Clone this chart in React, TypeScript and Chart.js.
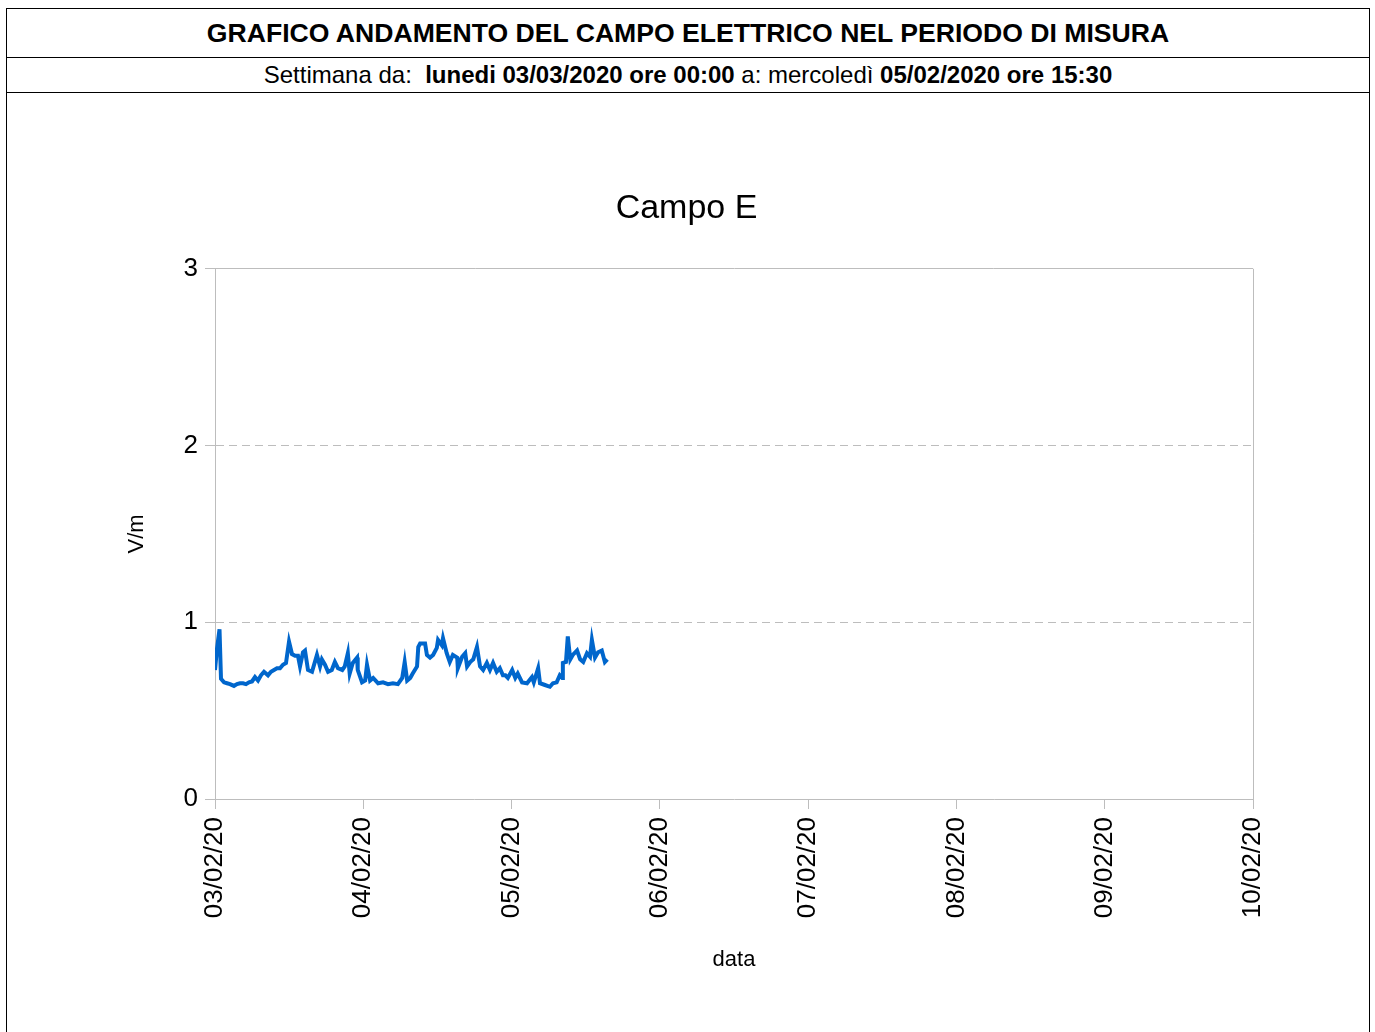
import React, { useEffect, useRef } from "react";
import { Chart, registerables } from "chart.js";

Chart.register(...registerables);

const headerTitle = "GRAFICO ANDAMENTO DEL CAMPO ELETTRICO NEL PERIODO DI MISURA";
const chartTitle = "Campo E";
const yAxisTitle = "V/m";
const xAxisTitle = "data";

const dayLabels = ["03/02/20", "04/02/20", "05/02/20", "06/02/20", "07/02/20", "08/02/20", "09/02/20", "10/02/20"];
const yTicks = [0, 1, 2, 3];

// hours since 03/02/20 00:00
const hours = [
  0, 0.32, 0.73, 0.97, 1.46, 1.94, 2.43, 3.07, 3.56, 4.05,
  4.53, 5.02, 5.5, 5.99, 6.47, 6.96, 7.44, 7.93, 8.58, 9.06,
  9.55, 10.03, 10.52, 11.0, 11.49, 11.98, 12.46, 12.95, 13.43, 13.76,
  14.24, 14.57, 15.05, 15.7, 16.5, 17.0, 17.3, 17.8, 18.3, 18.9,
  19.4, 19.9, 20.6, 21.0, 21.5, 21.8, 22.3, 23.0, 23.1, 23.8,
  24.3, 24.6, 25.1, 25.6, 26.4, 27.2, 28.0, 28.8, 29.6, 30.3,
  30.7, 31.1, 31.6, 32.0, 32.7, 32.9, 33.2, 34.0, 34.3, 34.8,
  35.3, 35.9, 36.1, 36.7, 36.9, 37.5, 38.0, 38.5, 39.2, 39.3,
  40.0, 40.5, 40.8, 41.3, 41.8, 42.4, 42.9, 43.4, 44.0, 44.5,
  45.0, 45.6, 46.1, 46.6, 47.0, 47.4, 48.1, 48.6, 49.0, 49.7,
  50.5, 51.3, 51.6, 52.3, 52.6, 53.4, 54.2, 54.7, 55.3, 55.8,
  56.2, 56.3, 56.8, 57.1, 57.5, 57.9, 58.6, 59.1, 59.6, 60.2,
  60.7, 61.0, 61.5, 62.0, 62.6, 63.1, 63.5,
];

// V/m
const fieldValues = [
  0.73, 0.85, 0.96, 0.68, 0.66, 0.655, 0.65, 0.64, 0.65, 0.655,
  0.655, 0.65, 0.66, 0.665, 0.69, 0.67, 0.70, 0.72, 0.70, 0.72,
  0.73, 0.74, 0.74, 0.76, 0.77, 0.89, 0.82, 0.81, 0.81, 0.75,
  0.83, 0.84, 0.73, 0.72, 0.815, 0.75, 0.79, 0.76, 0.72, 0.73,
  0.775, 0.74, 0.73, 0.75, 0.825, 0.71, 0.77, 0.80, 0.73, 0.66,
  0.67, 0.76, 0.67, 0.685, 0.655, 0.66, 0.65, 0.655, 0.65, 0.685,
  0.775, 0.67, 0.685, 0.71, 0.75, 0.86, 0.88, 0.88, 0.815, 0.80,
  0.815, 0.855, 0.90, 0.87, 0.91, 0.825, 0.775, 0.815, 0.80, 0.74,
  0.805, 0.825, 0.75, 0.775, 0.79, 0.86, 0.75, 0.73, 0.77, 0.73,
  0.77, 0.72, 0.74, 0.70, 0.70, 0.685, 0.73, 0.685, 0.71, 0.66,
  0.655, 0.69, 0.66, 0.74, 0.655, 0.645, 0.635, 0.655, 0.66, 0.70,
  0.685, 0.77, 0.775, 0.92, 0.79, 0.815, 0.84, 0.79, 0.775, 0.825,
  0.805, 0.90, 0.80, 0.83, 0.84, 0.775, 0.79,
];

const FONT = "'Liberation Sans', Arial, Helvetica, sans-serif";
const GRID = "#bdbdbd";
const Y_MAX = yTicks[yTicks.length - 1];

const framePlugin = {
  id: "frame",
  afterDraw(chart: any) {
    const { ctx, chartArea } = chart;
    const x = Math.round(chartArea.right) + 0.5;
    ctx.save();
    ctx.setLineDash([]);
    ctx.strokeStyle = GRID;
    ctx.lineWidth = 1;
    ctx.beginPath();
    ctx.moveTo(x, chartArea.top);
    ctx.lineTo(x, chartArea.bottom);
    ctx.stroke();
    ctx.restore();
  },
};

export default function App() {
  const ref = useRef<HTMLCanvasElement | null>(null);

  useEffect(() => {
    if (!ref.current) return;
    const data = hours.map((h, i) => ({ x: h, y: fieldValues[i] }));
    const chart = new Chart(ref.current, {
      type: "line",
      data: {
        datasets: [
          {
            label: chartTitle,
            data,
            borderColor: "#0066cc",
            borderWidth: 4,
            pointRadius: 0,
            tension: 0,
            fill: false,
          },
        ],
      },
      plugins: [framePlugin],
      options: {
        animation: false,
        responsive: false,
        layout: { padding: { left: 113, right: 116, top: 0, bottom: 55 } },
        plugins: {
          legend: { display: false },
          tooltip: { enabled: false },
          title: {
            display: true,
            text: chartTitle,
            color: "#000",
            font: { family: FONT, size: 34, weight: "normal" as any, lineHeight: 1.2 },
            padding: { top: 95, bottom: 40 },
          },
        },
        scales: {
          x: {
            type: "linear",
            min: 0,
            max: 168,
            afterFit: (s: any) => { s.height = 178; },
            afterBuildTicks: (s: any) => {
              s.ticks = dayLabels.map((_, i) => ({ value: i * 24 }));
            },
            ticks: {
              color: "#000",
              font: { family: FONT, size: 26 },
              minRotation: 90,
              maxRotation: 90,
              padding: 8,
              autoSkip: false,
              callback: (v: any) => dayLabels[Math.round(Number(v) / 24)] ?? "",
            },
            grid: { drawOnChartArea: false, color: GRID, tickLength: 10, tickColor: GRID },
            border: { color: GRID },
            title: {
              display: true,
              text: xAxisTitle,
              color: "#000",
              font: { family: FONT, size: 22, lineHeight: 1.2 },
            },
          },
          y: {
            min: 0,
            max: Y_MAX,
            afterFit: (s: any) => { s.width = 95; },
            afterBuildTicks: (s: any) => {
              s.ticks = yTicks.map((v) => ({ value: v }));
            },
            ticks: {
              color: "#000",
              font: { family: FONT, size: 26 },
              padding: 7,
            },
            grid: {
              color: GRID,
              tickLength: 10,
              tickColor: GRID,
              tickBorderDash: [],
            },
            border: {
              color: GRID,
              dash: (c: any) => (c.tick && c.tick.value === Y_MAX ? [] : [8, 5]),
            },
            title: {
              display: true,
              text: yAxisTitle,
              color: "#000",
              font: { family: FONT, size: 22, lineHeight: 1.2 },
            },
          },
        },
      },
    } as any);
    return () => chart.destroy();
  }, []);

  return (
    <div
      style={{
        position: "absolute",
        left: 6,
        top: 8,
        width: 1364,
        height: 1024,
        boxSizing: "border-box",
        borderLeft: "1px solid #000",
        borderRight: "1px solid #000",
        borderTop: "1px solid #000",
        fontFamily: FONT,
        color: "#000",
        overflow: "hidden",
      }}
    >
      <div
        style={{
          height: 48,
          borderBottom: "1px solid #000",
          display: "flex",
          alignItems: "center",
          justifyContent: "center",
          fontWeight: "bold",
          fontSize: 26.6,
        }}
      >
        {headerTitle}
      </div>
      <div
        style={{
          height: 34,
          borderBottom: "1px solid #000",
          display: "flex",
          alignItems: "center",
          justifyContent: "center",
          fontSize: 24,
          whiteSpace: "pre",
        }}
      >
        <span>Settimana da:  </span>
        <b>lunedi 03/03/2020 ore 00:00</b>
        <span> a: mercoledì </span>
        <b>05/02/2020 ore 15:30</b>
      </div>
      <canvas ref={ref} width={1362} height={939} style={{ display: "block" }} />
    </div>
  );
}
